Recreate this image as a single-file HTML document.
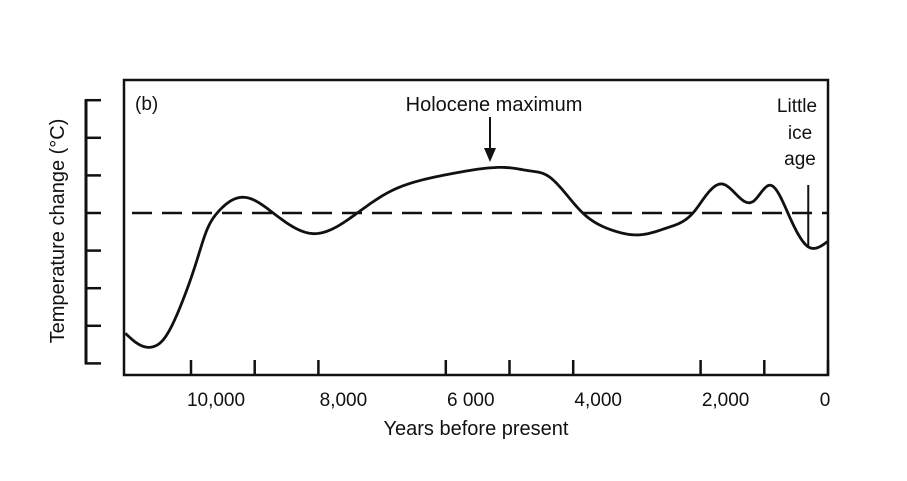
<!DOCTYPE html>
<html><head><meta charset="utf-8"><style>
body{margin:0;background:#fff;}
svg{display:block;font-family:"Liberation Sans",Arial,sans-serif;}
</style></head><body>
<svg id="chart" width="907" height="481">
<rect x="0" y="0" width="907" height="481" fill="#fff"/>
</svg>
<script>
const years=[11030,10860,10565,10440,10170,9906,9750,9590,9180,8710,8080,7390,6900,6320,5800,5310,4980,4680,4410,4160,3850,3400,2950,2500,2120,1900,1650,1180,910,630,310,0];
const temps=[-3.2,-3.45,-3.54,-3.38,-2.5,-1.25,-0.45,0,0.42,0,-0.55,0,0.55,0.9,1.08,1.2,1.2,1.12,1.0,0.6,0,-0.45,-0.58,-0.38,0,0.5,0.77,0.3,0.74,0,-0.9,-0.75];
const xTicks=[10000,9000,8000,6000,5000,4000,2000,1000,0];
const xLabelYears=[10000,8000,6000,4000,2000,0];
const xLabels=["10,000","8,000","6 000","4,000","2,000","0"];
const yTicks=[3,2,1,0,-1,-2,-3,-4];
const NS="http://www.w3.org/2000/svg";
const svg=document.getElementById('chart');
const L=124,R=828,T=80,B=375;
function x(yr){return R-yr*0.0637;}
function y(v){return 213-v*37.6;}
function mk(t,a,p){const e=document.createElementNS(NS,t);for(const k in a)e.setAttribute(k,a[k]);(p||svg).appendChild(e);return e;}
const fr=mk('rect',{x:L,y:T,width:R-L,height:B-T,fill:'none',stroke:'#111','stroke-width':2.5});


xTicks.forEach(t=>{const l=mk('line',{x1:x(t),x2:x(t),y1:B,y2:B-15,stroke:'#111','stroke-width':2.5});

});
xLabelYears.forEach((t,i)=>{const tx=mk('text',{x:x(t)+(t>0?25:-3),y:406,'text-anchor':'middle','font-size':19,fill:'#111'});tx.textContent=xLabels[i];

});
const ya=mk('line',{x1:86,x2:86,y1:y(3)-1,y2:y(-4)+1,stroke:'#111','stroke-width':3});


yTicks.forEach(v=>{const l=mk('line',{x1:85,x2:101,y1:y(v),y2:y(v),stroke:'#111','stroke-width':2.5});

});
const zl=mk('line',{x1:L+8,x2:R,y1:y(0),y2:y(0),stroke:'#111','stroke-width':2.5,'stroke-dasharray':'20 10'});


const X=years.map(x),Y=temps.map(y),n=X.length;
const h=[],al=[0],l=[1],mu=[0],z=[0],c=new Array(n).fill(0),b=[],dd=[];
for(let i=0;i<n-1;i++)h.push(X[i+1]-X[i]);
for(let i=1;i<n-1;i++)al.push(3/h[i]*(Y[i+1]-Y[i])-3/h[i-1]*(Y[i]-Y[i-1]));
for(let i=1;i<n-1;i++){l[i]=2*(X[i+1]-X[i-1])-h[i-1]*mu[i-1];mu[i]=h[i]/l[i];z[i]=(al[i]-h[i-1]*z[i-1])/l[i];}
z[n-1]=0;
for(let j=n-2;j>=0;j--){c[j]=z[j]-mu[j]*c[j+1];b[j]=(Y[j+1]-Y[j])/h[j]-h[j]*(c[j+1]+2*c[j])/3;dd[j]=(c[j+1]-c[j])/(3*h[j]);}
let d=`M${X[0]},${Y[0]}`;
for(let i=0;i<n-1;i++){for(let s=1;s<=10;s++){const t=h[i]*s/10;d+=` L${(X[i]+t).toFixed(2)},${(Y[i]+b[i]*t+c[i]*t*t+dd[i]*t*t*t).toFixed(2)}`;}}
const cv=mk('path',{d:d,fill:'none',stroke:'#111','stroke-width':2.8,'stroke-linejoin':'round'});


const lm=mk('line',{x1:x(310),x2:x(310),y1:185,y2:248,stroke:'#111','stroke-width':2});


const ar=mk('line',{x1:490,x2:490,y1:117,y2:150,stroke:'#111','stroke-width':2});


const ah=mk('path',{d:'M484,148 L496,148 L490,162 Z',fill:'#111'});


function txt(s,a,n){const t=mk('text',Object.assign({fill:'#111'},a));t.textContent=s;

return t;}
txt('(b)',{x:135,y:110,'font-size':19},'panel-label');
txt('Holocene maximum',{x:494,y:111,'font-size':20,'text-anchor':'middle'},'holocene-maximum-label');
txt('Little',{x:797,y:112,'font-size':19,'text-anchor':'middle'},'little-ice-age-label');
txt('ice',{x:800,y:139,'font-size':19,'text-anchor':'middle'},'little-ice-age-label');
txt('age',{x:800,y:165,'font-size':19,'text-anchor':'middle'},'little-ice-age-label');
txt('Years before present',{x:476,y:435,'font-size':20,'text-anchor':'middle'},'x-axis-title');
txt('Temperature change (°C)',{x:0,y:0,'font-size':20,'text-anchor':'middle',transform:'translate(64,231) rotate(-90)'},'y-axis-title');
</script>
</body></html>
